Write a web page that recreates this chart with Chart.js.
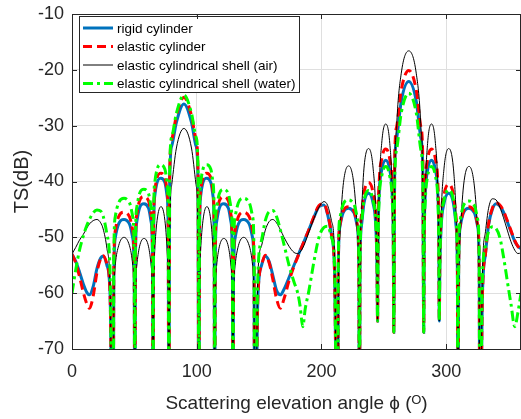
<!DOCTYPE html>
<html>
<head>
<meta charset="utf-8">
<script src="https://cdn.jsdelivr.net/npm/chart.js@4/dist/chart.umd.min.js"></script>
<style>
    html, body {
        margin: 0;
        padding: 0;
        background: #ffffff;
    }
    #wrap {
        width: 521px;
        height: 419px;
    }
</style>
</head>
<body>
<div id="wrap">
    <canvas id="tsChart" width="521" height="419"></canvas>
</div>
<script>

const ETIQUETAS = [
    "rigid cylinder",
    "elastic cylinder",
    "elastic cylindrical shell (air)",
    "elastic cylindrical shell (water)"
];

const X_TICKS = [0, 100, 200, 300];
const Y_TICKS = [-70, -60, -50, -40, -30, -20, -10];

// scattering angle (deg), one row per lobe
const angulos = [
    0, 3, 6, 9, 12, 14, 17, 20, 23, 25, 28, 30.5, 33,
    33.5, 34.7, 37.4, 41.7, 46.1, 48.7, 49.9, 50.4,
    50.8, 51.9, 54.1, 57.7, 61.4, 63.5, 64.6, 65,
    65.4, 66.3, 68.2, 71.3, 74.5, 76.3, 77.2, 77.6,
    78.3, 80, 83.7, 89.7, 95.8, 99.4, 101.1, 101.8,
    102.2, 103.1, 105, 108.1, 111.3, 113.1, 114, 114.4,
    114.8, 115.9, 118.1, 121.7, 125.4, 127.5, 128.6, 129,
    129.5, 130.8, 133.4, 137.7, 142.1, 144.8, 146, 146.5,
    149, 152, 155, 158, 161, 164, 167,
    170, 174, 178, 181, 183, 185, 187,
    190, 194, 198, 202, 205, 208, 210.5, 213,
    213.5, 214.8, 217.4, 221.8, 226.1, 228.8, 230, 230.5,
    230.9, 232, 234.1, 237.8, 241.4, 243.6, 244.6, 245,
    245.4, 246.3, 248.3, 251.5, 254.8, 256.7, 257.6, 258,
    258.7, 260.4, 264, 270, 276, 279.6, 281.3, 282,
    282.4, 283.3, 285.1, 288.3, 291.4, 293.3, 294.1, 294.5,
    294.9, 296, 298.3, 302, 305.8, 308, 309, 309.5,
    310, 311.3, 313.9, 318.3, 322.6, 325.3, 326.5, 327,
    329, 331.5, 334, 337, 340, 343, 346, 349, 352, 355, 357.5, 360
];

const tsRigido = [
    -53, -54.3, -56.2, -58.3, -59.9, -60.3, -58.8, -55.6, -53.7, -53.4, -55, -60, -100,
    -57.8, -50.1, -47.6, -46.8, -47.6, -50.1, -57.8, -100,
    -55, -47.3, -44.8, -44, -44.8, -47.3, -55, -100,
    -50.4, -42.7, -40.2, -39.4, -40.2, -42.7, -50.4, -100,
    -40.1, -33.6, -29.4, -26.1, -29.4, -33.6, -40.1, -100,
    -50.4, -42.7, -40.2, -39.4, -40.2, -42.7, -50.4, -100,
    -55, -47.3, -44.8, -44, -44.8, -47.3, -55, -100,
    -57.8, -50.1, -47.6, -46.8, -47.6, -50.1, -57.8, -100,
    -61, -55, -53.4, -54.3, -56.8, -59.5, -60.3,
    -59.3, -57.2, -55, -53.4, -52.3, -51.3, -50.2,
    -48.6, -46.4, -44.5, -44.2, -46, -49.5, -56, -100,
    -55.8, -48.1, -45.6, -44.8, -45.6, -48.1, -55.8, -100,
    -56.1, -48.1, -43.9, -42.1, -43.9, -48.1, -56.1, -65,
    -50.2, -42.2, -38, -36.2, -38, -42.2, -50.2, -67,
    -38.1, -32.1, -25.6, -22.1, -25.6, -32.1, -38.1, -67,
    -50.2, -42.2, -38, -36.2, -38, -42.2, -50.2, -65,
    -56.1, -48.1, -43.9, -42.1, -43.9, -48.1, -56.1, -100,
    -55.8, -48.1, -45.6, -44.8, -45.6, -48.1, -55.8, -100,
    -61, -53, -47.8, -45, -44, -44.4, -45.5, -47.2, -49, -50.7, -51.6, -52
];

const tsElastico = [
    -53, -54.6, -57, -59.8, -62, -62.7, -60.5, -56.3, -53.8, -53.3, -54.8, -60, -100,
    -56.5, -48.8, -46.3, -45.5, -46.3, -48.8, -56.5, -100,
    -53.7, -46, -43.5, -42.7, -43.5, -46, -53.7, -100,
    -49.5, -41.8, -39.3, -38.5, -39.3, -41.8, -49.5, -100,
    -38.9, -32.4, -28.2, -24.9, -28.2, -32.4, -38.9, -100,
    -49.5, -41.8, -39.3, -38.5, -39.3, -41.8, -49.5, -100,
    -53.7, -46, -43.5, -42.7, -43.5, -46, -53.7, -100,
    -56.5, -48.8, -46.3, -45.5, -46.3, -48.8, -56.5, -100,
    -61, -55, -53.2, -54.5, -57.5, -61, -62.7,
    -61, -57.8, -55.2, -53.5, -52.4, -51.3, -50.2,
    -48.6, -46.3, -44.3, -44, -45.8, -49.3, -56, -100,
    -55.5, -47.8, -45.3, -44.5, -45.3, -47.8, -55.5, -100,
    -54.2, -46.2, -42, -40.2, -42, -46.2, -54.2, -65,
    -48.2, -40.2, -36, -34.2, -36, -40.2, -48.2, -67,
    -36.1, -30.1, -23.6, -20.1, -23.6, -30.1, -36.1, -67,
    -48.2, -40.2, -36, -34.2, -36, -40.2, -48.2, -65,
    -54.5, -46.5, -42.3, -40.5, -42.3, -46.5, -54.5, -100,
    -55.5, -47.8, -45.3, -44.5, -45.3, -47.8, -55.5, -100,
    -61, -53, -47.6, -44.8, -43.8, -44.2, -45.3, -47, -48.8, -50.6, -51.6, -52.2
];

const tsCapaAire = [
    -53, -51.8, -50.5, -49.5, -48.3, -47.6, -47, -46.8, -47.4, -48.5, -52, -59, -100,
    -64, -55, -51.5, -50, -51.5, -55, -64, -100,
    -64.2, -55.2, -51.7, -50.2, -51.7, -55.2, -64.2, -100,
    -62.5, -52.5, -47, -44.5, -47, -52.5, -62.5, -100,
    -50.5, -40.5, -34, -30.5, -34, -40.5, -50.5, -100,
    -62.5, -52.5, -47, -44.5, -47, -52.5, -62.5, -100,
    -64.2, -55.2, -51.7, -50.2, -51.7, -55.2, -64.2, -100,
    -64, -55, -51.5, -50, -51.5, -55, -64, -100,
    -57, -51.5, -48.7, -47.2, -46.8, -47.4, -48.6,
    -50, -51.6, -52.7, -52.9, -52.6, -51.9, -50.9,
    -49, -46.6, -44.6, -43.6, -44.3, -47, -53, -100,
    -61.2, -49.2, -40.7, -37.2, -40.7, -49.2, -61.2, -100,
    -58.1, -46.1, -37.6, -34.1, -37.6, -46.1, -58.1, -65,
    -53.7, -41.7, -33.2, -29.7, -33.2, -41.7, -53.7, -67,
    -41.6, -29.6, -20.6, -16.6, -20.6, -29.6, -41.6, -67,
    -53.7, -41.7, -33.2, -29.7, -33.2, -41.7, -53.7, -65,
    -58.1, -46.1, -37.6, -34.1, -37.6, -46.1, -58.1, -100,
    -61.3, -49.3, -40.8, -37.3, -40.8, -49.3, -61.3, -100,
    -57, -49, -44.8, -43.1, -43.3, -44.6, -46.5, -48.7, -50.8, -52.3, -52.9, -52.8
];

const tsCapaAgua = [
    -60, -55.8, -52.3, -49.8, -47.8, -46.8, -45.6, -45.1, -45.3, -46.2, -49.5, -56, -100,
    -54, -46.3, -43.8, -43, -43.8, -46.3, -54, -100,
    -52.4, -44.7, -42.2, -41.4, -42.2, -44.7, -52.4, -100,
    -48, -40.3, -37.8, -37, -37.8, -40.3, -48, -100,
    -38.5, -32, -27.8, -24.5, -27.8, -32, -38.5, -100,
    -48, -40.3, -37.8, -37, -37.8, -40.3, -48, -100,
    -52.4, -44.7, -42.2, -41.4, -42.2, -44.7, -52.4, -100,
    -54, -46.3, -43.8, -43, -43.8, -46.3, -54, -100,
    -57, -50.5, -47, -45.4, -45.2, -46.3, -48.6,
    -51.3, -55, -58, -60, -62.5, -66, -62.8,
    -59.5, -54.3, -50, -48.2, -48, -50, -55, -100,
    -54.3, -46.6, -44.1, -43.3, -44.1, -46.6, -54.3, -100,
    -55.6, -47.6, -43.4, -41.6, -43.4, -47.6, -55.6, -65,
    -51.3, -43.3, -39.1, -37.3, -39.1, -43.3, -51.3, -67,
    -40.2, -34.2, -27.7, -24.2, -27.7, -34.2, -40.2, -67,
    -51.3, -43.3, -39.1, -37.3, -39.1, -43.3, -51.3, -65,
    -55.5, -47.5, -43.3, -41.5, -43.3, -47.5, -55.5, -100,
    -54.5, -46.8, -44.3, -43.5, -44.3, -46.8, -54.5, -100,
    -58, -51.5, -49, -48.1, -48.4, -50, -53.5, -57.8, -62, -66, -63.5, -60
];

function puntos(valores) {
    return angulos.map((a, i) => ({ x: a, y: valores[i] }));
}

const FUENTE = "'Liberation Sans', Arial, sans-serif";
const EJE = "#262626";

// legend drawn inside the axes, MATLAB style
const leyendaCaja = {
    id: "leyendaCaja",
    afterDatasetsDraw(chart) {
        const { ctx, chartArea } = chart;
        const x0 = chartArea.left + 7;
        const y0 = chartArea.top + 2;
        const w = 220;
        const h = 76;

        ctx.save();
        ctx.fillStyle = "#ffffff";
        ctx.fillRect(x0, y0, w, h);
        ctx.strokeStyle = EJE;
        ctx.lineWidth = 1;
        ctx.strokeRect(x0 + 0.5, y0 + 0.5, w, h);

        chart.data.datasets.forEach((ds, i) => {
            const y = y0 + 12 + i * 18.5;
            ctx.beginPath();
            ctx.setLineDash(ds.borderDash || []);
            ctx.strokeStyle = ds.borderColor;
            ctx.lineWidth = ds.borderWidth;
            ctx.moveTo(x0 + 4, y);
            ctx.lineTo(x0 + 34, y);
            ctx.stroke();
            ctx.setLineDash([]);
            ctx.fillStyle = "#000000";
            ctx.font = "13.5px " + FUENTE;
            ctx.textBaseline = "middle";
            ctx.fillText(ds.label, x0 + 38, y + 1);
        });
        ctx.restore();
    }
};

// box around the axes with inward ticks
const marco = {
    id: "marco",
    afterDraw(chart) {
        const { ctx, chartArea, scales } = chart;
        const { left, right, top, bottom } = chartArea;

        ctx.save();
        ctx.strokeStyle = EJE;
        ctx.lineWidth = 1;
        ctx.beginPath();
        ctx.moveTo(left + 0.5, bottom + 0.5);
        ctx.lineTo(left + 0.5, top + 0.5);
        ctx.lineTo(right + 0.5, top + 0.5);
        ctx.moveTo(left, bottom + 0.5);
        ctx.lineTo(right + 1, bottom + 0.5);
        ctx.moveTo(right - 0.5, top);
        ctx.lineTo(right - 0.5, bottom);

        X_TICKS.forEach(v => {
            const px = Math.round(scales.x.getPixelForValue(v)) + 0.5;
            ctx.moveTo(px, top);
            ctx.lineTo(px, top + 5);
            ctx.moveTo(px, bottom);
            ctx.lineTo(px, bottom - 5);
        });
        Y_TICKS.forEach(v => {
            const py = Math.round(scales.y.getPixelForValue(v)) + 0.5;
            ctx.moveTo(left, py);
            ctx.lineTo(left + 5, py);
            ctx.moveTo(right, py);
            ctx.lineTo(right - 5, py);
        });
        ctx.stroke();
        ctx.restore();
    }
};

const ctx = document.getElementById("tsChart");

new Chart(ctx, {

    type: "line",

    data: {
        datasets: [
            {
                label: ETIQUETAS[0],
                data: puntos(tsRigido),
                borderColor: "#0072BD",
                borderWidth: 3,
                order: 4
            },
            {
                label: ETIQUETAS[1],
                data: puntos(tsElastico),
                borderColor: "#FF0000",
                borderWidth: 3,
                borderDash: [9, 5],
                order: 3
            },
            {
                label: ETIQUETAS[2],
                data: puntos(tsCapaAire),
                borderColor: "#000000",
                borderWidth: 1,
                order: 2
            },
            {
                label: ETIQUETAS[3],
                data: puntos(tsCapaAgua),
                borderColor: "#00FF00",
                borderWidth: 3,
                borderDash: [10, 4, 3, 4],
                order: 1
            }
        ]
    },

    options: {
        responsive: false,
        animation: false,
        clip: 0,
        layout: {
            padding: { top: 14, left: 0, right: 0, bottom: 0 }
        },
        elements: {
            point: { radius: 0 },
            line: {
                cubicInterpolationMode: "monotone",
                fill: false
            }
        },
        plugins: {
            legend: { display: false },
            tooltip: { enabled: false }
        },
        scales: {
            x: {
                type: "linear",
                min: 0,
                max: 360,
                afterBuildTicks(scale) {
                    scale.ticks = X_TICKS.map(v => ({ value: v }));
                },
                afterFit(scale) {
                    scale.height = 70;
                    scale.paddingLeft = 0;
                    scale.paddingRight = 0;
                },
                grid: {
                    color: "#dfdfdf",
                    drawTicks: false
                },
                border: { display: false },
                ticks: {
                    padding: 12,
                    color: EJE,
                    font: { size: 18, family: FUENTE }
                },
                title: {
                    display: true,
                    text: "Scattering elevation angle \u03D5 (\u1D3C)",
                    color: EJE,
                    padding: { top: 0, bottom: 4 },
                    font: { size: 19, family: FUENTE }
                }
            },
            y: {
                min: -70,
                max: -10,
                afterBuildTicks(scale) {
                    scale.ticks = Y_TICKS.map(v => ({ value: v }));
                },
                afterFit(scale) {
                    scale.width = 72;
                    scale.paddingTop = 0;
                    scale.paddingBottom = 0;
                },
                grid: {
                    color: "#dfdfdf",
                    drawTicks: false
                },
                border: { display: false },
                ticks: {
                    padding: 8,
                    color: EJE,
                    font: { size: 18, family: FUENTE }
                },
                title: {
                    display: true,
                    text: "TS(dB)",
                    color: EJE,
                    padding: { top: 10, bottom: 0 },
                    font: { size: 20, family: FUENTE }
                }
            }
        }
    },

    plugins: [leyendaCaja, marco]

});

</script>
</body>
</html>
